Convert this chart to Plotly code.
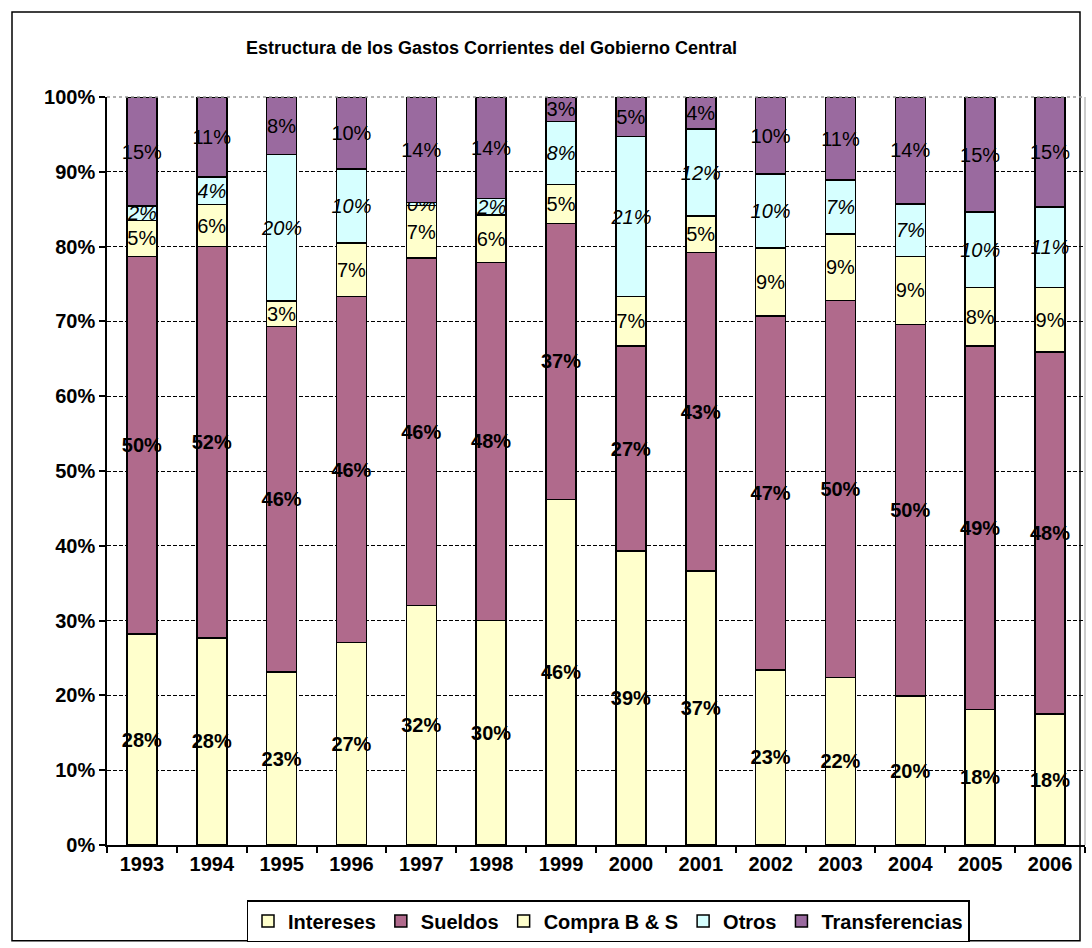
import plotly.graph_objects as go

years = ["1993", "1994", "1995", "1996", "1997", "1998", "1999",
         "2000", "2001", "2002", "2003", "2004", "2005", "2006"]
intereses = [28.2, 27.7, 23.1, 27.1, 32.0, 30.0, 46.2, 39.3, 36.6, 23.4, 22.4, 19.9, 18.1, 17.5]
sueldos = [50.5, 52.3, 46.2, 46.2, 46.5, 47.9, 36.9, 27.4, 42.6, 47.3, 50.4, 49.7, 48.6, 48.4]
compra = [4.8, 5.6, 3.4, 7.2, 7.0, 6.3, 5.2, 6.6, 4.9, 9.1, 8.9, 9.1, 7.8, 8.6]
otros = [1.9, 3.7, 19.6, 9.9, 0.4, 2.2, 8.4, 21.4, 11.6, 9.9, 7.2, 7.0, 10.1, 10.8]
transferencias = [14.6, 10.7, 7.7, 9.6, 14.1, 13.6, 3.3, 5.3, 4.3, 10.3, 11.1, 14.3, 15.4, 14.7]
y_ticks = [0, 10, 20, 30, 40, 50, 60, 70, 80, 90, 100]
y_tick_labels = [f"{v}%" for v in y_ticks]

W, H = 1092, 948
L, R, T, B = 107, 7, 97, 102
pw, ph = W - L - R, H - T - B
FONT = "Liberation Sans, Arial"

series = [
    ("Intereses", intereses, "#FFFFCC", "bold", "normal"),
    ("Sueldos", sueldos, "#B06A8C", "bold", "normal"),
    ("Compra B & S", compra, "#FFFFCC", "normal", "normal"),
    ("Otros", otros, "#D6FFFF", "normal", "italic"),
    ("Transferencias", transferencias, "#9A6A9F", "normal", "normal"),
]

fig = go.Figure()
for name, vals, color, weight, style in series:
    fig.add_trace(go.Bar(
        name=name, x=years, y=vals,
        marker=dict(color=color, line=dict(color="black", width=1.5)),
        text=[f"{round(v):.0f}%" for v in vals],
        textposition="inside", insidetextanchor="middle", textangle=0,
        textfont=dict(family=FONT, size=20, color="black",
                      weight=weight, style=style),
        cliponaxis=False,
        hoverinfo="skip",
    ))

def px_x(p):
    return (p - L) / pw

def px_y(p):
    return (H - B - p) / ph

fig.update_layout(
    width=W, height=H,
    barmode="stack", bargap=0.57,
    margin=dict(l=L, r=R, t=T, b=B),
    paper_bgcolor="white", plot_bgcolor="white",
    font=dict(family=FONT, color="black"),
    uniformtext=dict(minsize=20, mode="show"),
    showlegend=True,
    legend=dict(orientation="h", x=px_x(608), y=px_y(921),
                xanchor="center", yanchor="middle",
                bordercolor="black", borderwidth=1.5,
                font=dict(size=20, weight="bold", family=FONT),
                itemwidth=30, tracegroupgap=0,
                traceorder="normal"),
    annotations=[dict(text="<b>Estructura de los Gastos Corrientes del Gobierno Central</b>",
                      xref="paper", yref="paper", x=px_x(491), y=px_y(48),
                      xanchor="center", yanchor="middle", showarrow=False,
                      font=dict(size=18, family=FONT, color="black"))],
    shapes=[
        dict(type="rect", xref="paper", yref="paper",
             x0=px_x(12), x1=px_x(1080), y0=px_y(942), y1=px_y(12),
             line=dict(color="black", width=1.5), layer="below"),
        dict(type="line", xref="paper", yref="paper",
             x0=0, x1=1, y0=1, y1=1, line=dict(color="#999999", width=1.5, dash="dot")),
        dict(type="line", xref="paper", yref="paper",
             x0=1, x1=1, y0=0, y1=1, line=dict(color="#999999", width=1)),
    ],
)
fig.update_xaxes(
    showline=True, linecolor="black", linewidth=1.5,
    ticks="outside", ticklen=6, tickcolor="black", tickwidth=1.5,
    tickson="boundaries",
    tickfont=dict(size=20, weight="bold", family=FONT),
    showgrid=False,
)
fig.update_yaxes(
    range=[0, 100.0001], tickvals=y_ticks, ticktext=y_tick_labels,
    showline=True, linecolor="black", linewidth=1.5,
    ticks="outside", ticklen=6, tickcolor="black", tickwidth=1.5,
    tickfont=dict(size=20, weight="bold", family=FONT),
    showgrid=True, gridcolor="black", gridwidth=1, griddash="4px,2px",
    zeroline=False,
)
fig.write_html("out.html",
               config={"displayModeBar": False},
               post_script="document.body.style.margin='0';document.body.style.overflow='hidden';")
